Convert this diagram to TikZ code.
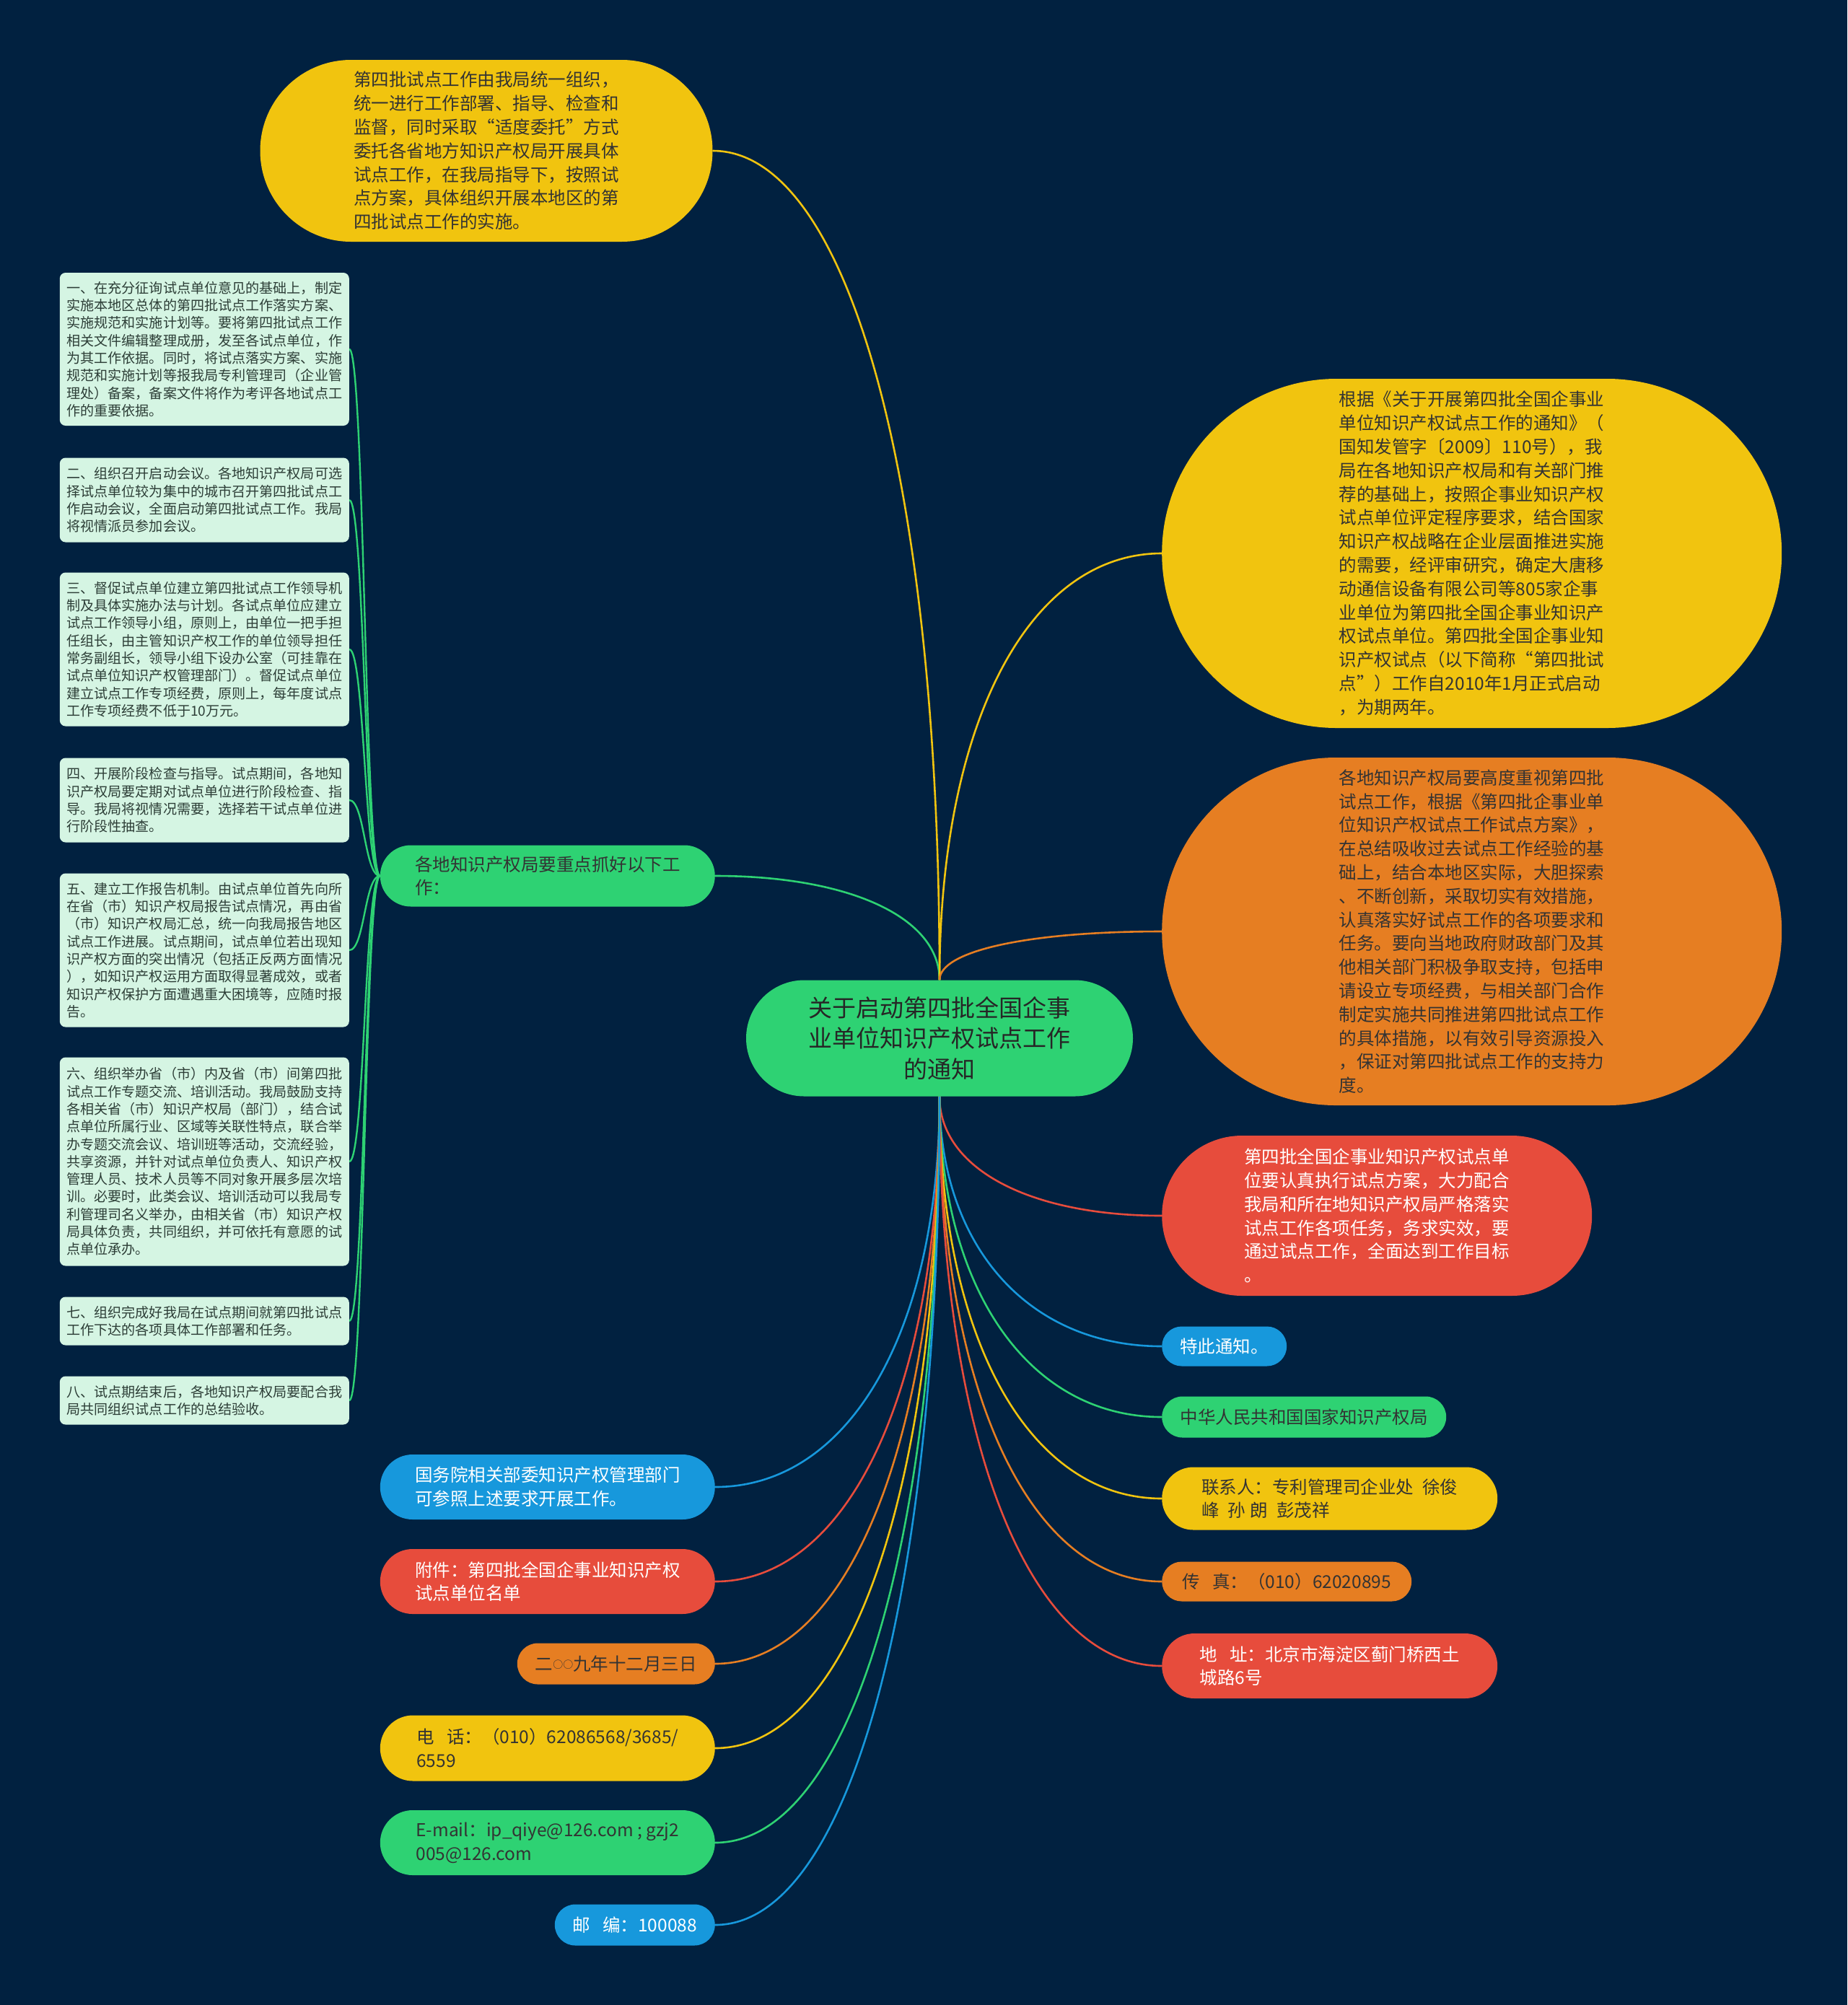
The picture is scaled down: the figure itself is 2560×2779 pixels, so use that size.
\documentclass[tikz,border=0pt]{standalone}
\usepackage{fontspec}
\usepackage{tikz}
\usetikzlibrary{shapes.misc, calc, backgrounds}
\newfontfamily\cjk{Noto Sans CJK SC}
\definecolor{cNavy}{RGB}{1,33,64}
\definecolor{cGreen}{RGB}{46,210,115}
\definecolor{cYellow}{RGB}{241,196,15}
\definecolor{cOrange}{RGB}{230,126,34}
\definecolor{cRed}{RGB}{231,76,60}
\definecolor{cBlue}{RGB}{23,152,220}
\definecolor{cMint}{RGB}{213,245,227}
\definecolor{cLeafText}{RGB}{45,62,55}
\newcommand{\smallring}{\raisebox{2.5pt}{\fontsize{14}{14}\selectfont ○}}
\tikzset{
	topic/.style ={rounded rectangle, fill=cGreen, text=black!85, align=center, inner sep=4pt, font=\cjk\fontsize{33}{42.5}\selectfont},
	bubble/.style={rounded rectangle, inner sep=4pt, align=left, text=black!80, font=\cjk\fontsize{24.5}{32.8}\selectfont},
	leaf/.style  ={rectangle, rounded corners=8pt, fill=cMint, text=cLeafText, align=left, inner xsep=9pt, inner ysep=4pt, minimum width=401pt, anchor=east, font=\cjk\fontsize{19.1}{24.3}\selectfont},
	branch/.style={line width=2.6pt},
	twig/.style  ={line width=2.4pt, draw=cGreen},
}

\begin{document}
\begin{tikzpicture}[x=1pt, y=-1pt]
	\useasboundingbox (0,0) rectangle (2560,2779);
	\node[topic, minimum width=544pt, minimum height=161pt] (root) at (1302,1439) {关于启动第四批全国企事\\业单位知识产权试点工作\\的通知};

	% upper side
	\node[bubble, fill=cYellow, minimum width=635pt, minimum height=252pt] (plan) at (674,209) {第四批试点工作由我局统一组织，\\统一进行工作部署、指导、检查和\\监督，同时采取“适度委托”方式\\委托各省地方知识产权局开展具体\\试点工作，在我局指导下，按照试\\点方案，具体组织开展本地区的第\\四批试点工作的实施。};
	\node[bubble, fill=cYellow, anchor=west, minimum width=867pt, minimum height=484pt] (basis) at (1610,767) {根据《关于开展第四批全国企事业\\单位知识产权试点工作的通知》（\\国知发管字〔2009〕110号），我\\局在各地知识产权局和有关部门推\\荐的基础上，按照企事业知识产权\\试点单位评定程序要求，结合国家\\知识产权战略在企业层面推进实施\\的需要，经评审研究，确定大唐移\\动通信设备有限公司等805家企事\\业单位为第四批全国企事业知识产\\权试点单位。第四批全国企事业知\\识产权试点（以下简称“第四批试\\点”）工作自2010年1月正式启动\\，为期两年。};
	\node[bubble, fill=cOrange, anchor=west, minimum width=867pt, minimum height=482pt] (local) at (1610,1291) {各地知识产权局要高度重视第四批\\试点工作，根据《第四批企事业单\\位知识产权试点工作试点方案》，\\在总结吸收过去试点工作经验的基\\础上，结合本地区实际，大胆探索\\、不断创新，采取切实有效措施，\\认真落实好试点工作的各项要求和\\任务。要向当地政府财政部门及其\\他相关部门积极争取支持，包括申\\请设立专项经费，与相关部门合作\\制定实施共同推进第四批试点工作\\的具体措施，以有效引导资源投入\\，保证对第四批试点工作的支持力\\度。};
	\node[bubble, fill=cGreen, anchor=east, minimum width=472pt, minimum height=85pt] (points) at (991,1214) {各地知识产权局要重点抓好以下工\\作：};

	% lower right
	\node[bubble, fill=cRed, text=white, anchor=west, minimum width=604pt, minimum height=222pt] (units) at (1610,1685) {第四批全国企事业知识产权试点单\\位要认真执行试点方案，大力配合\\我局和所在地知识产权局严格落实\\试点工作各项任务，务求实效，要\\通过试点工作，全面达到工作目标\\。};
	\node[bubble, fill=cBlue, text=white, anchor=west, minimum width=181pt, minimum height=55pt] (notice) at (1610,1866) {特此通知。};
	\node[bubble, fill=cGreen, anchor=west, minimum width=402pt, minimum height=57pt] (office) at (1610,1964) {中华人民共和国国家知识产权局};
	\node[bubble, fill=cYellow, anchor=west, minimum width=473pt, minimum height=87pt] (contact) at (1610,2077) {联系人：专利管理司企业处\hspace{0.5em}徐俊\\峰\hspace{0.5em}孙\hspace{0.25em}朗\hspace{0.5em}彭茂祥};
	\node[bubble, fill=cOrange, anchor=west, minimum width=354pt, minimum height=55pt] (fax) at (1610,2192) {传\hspace{0.7em}真：（010）62020895};
	\node[bubble, fill=cRed, text=white, anchor=west, minimum width=473pt, minimum height=90pt] (addr) at (1610,2309) {地\hspace{0.7em}址：北京市海淀区蓟门桥西土\\城路6号};

	% lower left
	\node[bubble, fill=cBlue, text=white, anchor=east, minimum width=472pt, minimum height=90pt] (council) at (991,2061) {国务院相关部委知识产权管理部门\\可参照上述要求开展工作。};
	\node[bubble, fill=cRed, text=white, anchor=east, minimum width=472pt, minimum height=90pt] (annex) at (991,2192) {附件：第四批全国企事业知识产权\\试点单位名单};
	\node[bubble, fill=cOrange, anchor=east, minimum width=282pt, minimum height=57pt] (date) at (991,2306) {二\smallring\smallring 九年十二月三日};
	\node[bubble, fill=cYellow, anchor=east, minimum width=472pt, minimum height=91pt] (phone) at (991,2423) {电\hspace{0.7em}话：（010）62086568/3685/\\6559};
	\node[bubble, fill=cGreen, anchor=east, minimum width=472pt, minimum height=90pt] (email) at (991,2554) {E-mail：ip\_qiye@126.com ; gzj2\\005@126.com};
	\node[bubble, fill=cBlue, text=white, anchor=east, minimum width=230pt, minimum height=57pt] (zip) at (991,2668) {邮\hspace{0.7em}编：100088};

	% tasks of the local offices
	\node[leaf, minimum height=212pt] (l1) at (484,484) {一、在充分征询试点单位意见的基础上，制定\\实施本地区总体的第四批试点工作落实方案、\\实施规范和实施计划等。要将第四批试点工作\\相关文件编辑整理成册，发至各试点单位，作\\为其工作依据。同时，将试点落实方案、实施\\规范和实施计划等报我局专利管理司（企业管\\理处）备案，备案文件将作为考评各地试点工\\作的重要依据。};
	\node[leaf, minimum height=117pt] (l2) at (484,693) {二、组织召开启动会议。各地知识产权局可选\\择试点单位较为集中的城市召开第四批试点工\\作启动会议，全面启动第四批试点工作。我局\\将视情派员参加会议。};
	\node[leaf, minimum height=213pt] (l3) at (484,900) {三、督促试点单位建立第四批试点工作领导机\\制及具体实施办法与计划。各试点单位应建立\\试点工作领导小组，原则上，由单位一把手担\\任组长，由主管知识产权工作的单位领导担任\\常务副组长，领导小组下设办公室（可挂靠在\\试点单位知识产权管理部门）。督促试点单位\\建立试点工作专项经费，原则上，每年度试点\\工作专项经费不低于10万元。};
	\node[leaf, minimum height=117pt] (l4) at (484,1109) {四、开展阶段检查与指导。试点期间，各地知\\识产权局要定期对试点单位进行阶段检查、指\\导。我局将视情况需要，选择若干试点单位进\\行阶段性抽查。};
	\node[leaf, minimum height=213pt] (l5) at (484,1317) {五、建立工作报告机制。由试点单位首先向所\\在省（市）知识产权局报告试点情况，再由省\\（市）知识产权局汇总，统一向我局报告地区\\试点工作进展。试点期间，试点单位若出现知\\识产权方面的突出情况（包括正反两方面情况\\），如知识产权运用方面取得显著成效，或者\\知识产权保护方面遭遇重大困境等，应随时报\\告。};
	\node[leaf, minimum height=289pt] (l6) at (484,1610) {六、组织举办省（市）内及省（市）间第四批\\试点工作专题交流、培训活动。我局鼓励支持\\各相关省（市）知识产权局（部门），结合试\\点单位所属行业、区域等关联性特点，联合举\\办专题交流会议、培训班等活动，交流经验，\\共享资源，并针对试点单位负责人、知识产权\\管理人员、技术人员等不同对象开展多层次培\\训。必要时，此类会议、培训活动可以我局专\\利管理司名义举办，由相关省（市）知识产权\\局具体负责，共同组织，并可依托有意愿的试\\点单位承办。};
	\node[leaf, minimum height=67pt] (l7) at (484,1831) {七、组织完成好我局在试点期间就第四批试点\\工作下达的各项具体工作部署和任务。};
	\node[leaf, minimum height=67pt] (l8) at (484,1941) {八、试点期结束后，各地知识产权局要配合我\\局共同组织试点工作的总结验收。};

	\begin{scope}[on background layer]
		\fill[cNavy] (0,0) rectangle (2560,2779);
		\foreach \n/\c in {plan/cYellow, points/cGreen}
			\draw[branch, draw=\c] (root.north) .. controls ($(root.north)!0.6!(root.north |- \n.east)$) and ($(\n.east)!0.6!(root.north |- \n.east)$) .. (\n.east);
		\foreach \n/\c in {basis/cYellow, local/cOrange}
			\draw[branch, draw=\c] (root.north) .. controls ($(root.north)!0.6!(root.north |- \n.west)$) and ($(\n.west)!0.6!(root.north |- \n.west)$) .. (\n.west);
		\foreach \n/\c in {units/cRed, notice/cBlue, office/cGreen, contact/cYellow, fax/cOrange, addr/cRed}
			\draw[branch, draw=\c] (root.south) .. controls ($(root.south)!0.6!(root.south |- \n.west)$) and ($(\n.west)!0.6!(root.south |- \n.west)$) .. (\n.west);
		\foreach \n/\c in {council/cBlue, annex/cRed, date/cOrange, phone/cYellow, email/cGreen, zip/cBlue}
			\draw[branch, draw=\c] (root.south) .. controls ($(root.south)!0.6!(root.south |- \n.east)$) and ($(\n.east)!0.6!(root.south |- \n.east)$) .. (\n.east);
		\foreach \i in {1,...,8}
			\draw[twig] (points.west) .. controls ($(points.west)!0.5!(points.west -| l\i.east)$) and ($(l\i.east)!0.5!(l\i.east -| points.west)$) .. (l\i.east);
	\end{scope}
\end{tikzpicture}
\end{document}
